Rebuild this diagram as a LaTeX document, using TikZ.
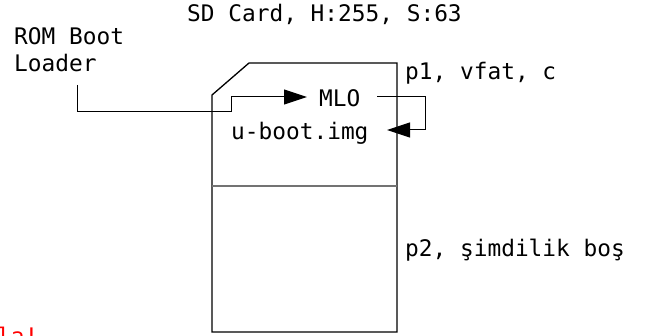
\documentclass[tikz,border=0pt]{standalone}
\usepackage{fontspec}
\setmainfont{DejaVu Sans Mono}
\usetikzlibrary{arrows.meta}
\begin{document}
\begin{tikzpicture}[x=1pt,y=-1pt,
  lbl/.style={anchor=base west,inner sep=0pt,font=\fontsize{22.8}{27}\selectfont},
  conn/.style={draw=black,line width=1pt,-{Triangle[length=23pt,width=15pt]}},
  card/.style={draw=black,line width=1.3pt,line join=miter},
  divider/.style={draw=black!55,line width=1.6pt}]
\useasboundingbox (0,0) rectangle (650,336);
\clip (0,0) rectangle (650,336);
% title and labels
\node[lbl] (title) at (187,22) {SD Card, H:255, S:63};
\node[lbl] (rom1) at (14,45) {ROM Boot};
\node[lbl] (rom2) at (14,72) {Loader};
\node[lbl] (p1) at (405,80) {p1, vfat, c};
\node[lbl] (p2) at (405,257) {p2, şimdilik boş};
\node[lbl,text=red] (warn) at (-3,344) {la!};
% card
\path[card] (212,95) -- (249,63) -- (397,63) -- (397,332) -- (212,332) -- cycle;
\path[divider] (212,186) -- (397,186);
% files
\node[lbl] (mlo) at (319,107) {MLO};
\node[lbl] (uboot) at (231,140) {u-boot.img};
% connectors
\coordinate (a1) at (77,85);
\coordinate (a2) at (231,112);
\coordinate (mlotip) at (307,97);
\draw[conn] (a1) |- (a2) |- (mlotip);
\coordinate (b1) at (377,97);
\coordinate (b2) at (425,130);
\coordinate (ubtip) at (387,130);
\draw[conn] (b1) -| (b2) -- (ubtip);
\end{tikzpicture}
\end{document}
